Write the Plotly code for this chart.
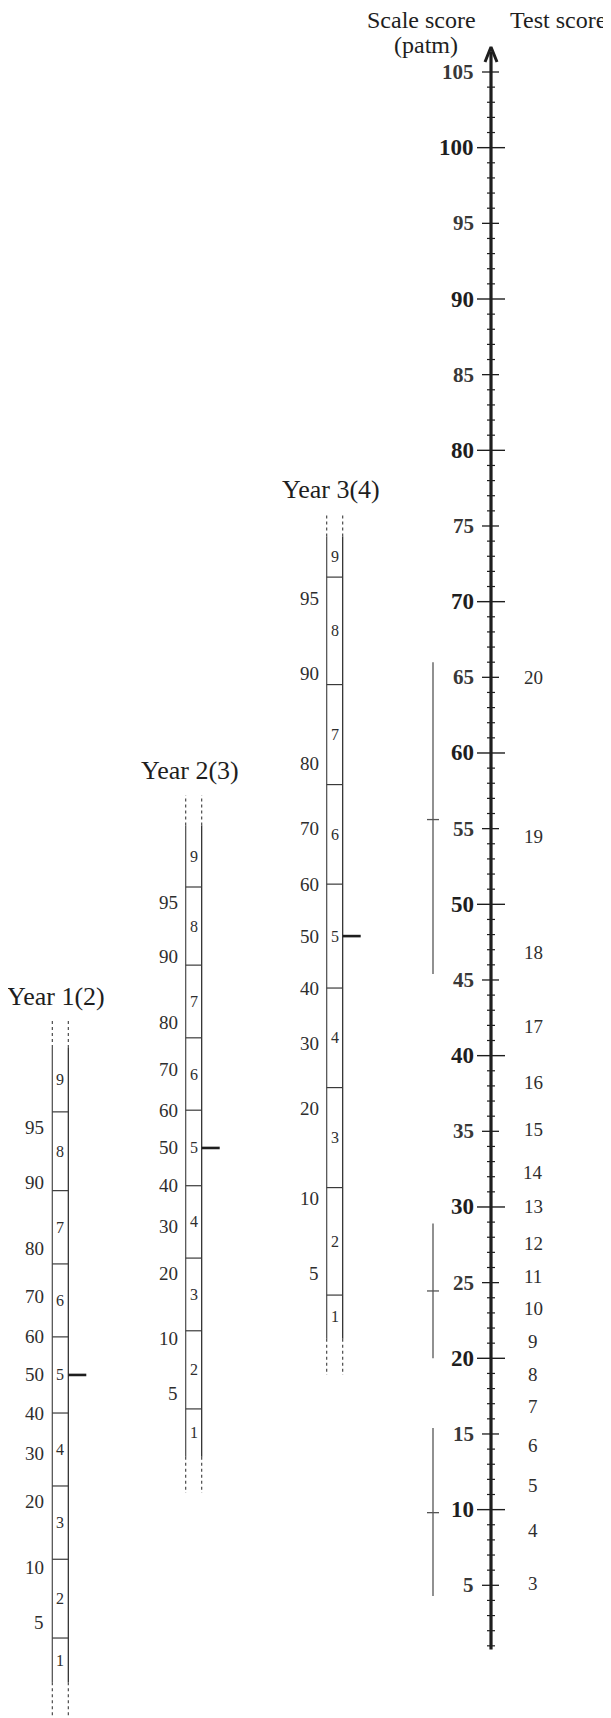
import plotly.graph_objects as go
from statistics import NormalDist

# ---------------- data ----------------
# main scale-score axis
scale_major_ticks = [10, 20, 30, 40, 50, 60, 70, 80, 90, 100]
scale_mid_ticks = [5, 15, 25, 35, 45, 55, 65, 75, 85, 95, 105]
scale_minor_ticks = list(range(1, 106))
axis_bottom = 0.75
axis_top = 106.65

# test scores and their scale-score positions
test_scores = [3, 4, 5, 6, 7, 8, 9, 10, 11, 12, 13, 14, 15, 16, 17, 18, 19, 20]
test_scale_pos = [5.1, 8.6, 11.6, 14.25, 16.8, 18.9, 21.1, 23.3, 25.4, 27.6,
                  30.0, 32.25, 35.1, 38.2, 41.9, 46.8, 54.5, 65.0]

# measurement-error bars (low, centre, high) in scale score
err_low = [4.3, 20.0, 45.4]
err_mid = [9.8, 24.45, 55.6]
err_high = [15.4, 28.9, 66.0]

# year columns (percentile scale placed on the scale-score axis)
years = ["Year 1(2)", "Year 2(3)", "Year 3(4)"]
year_mean = [18.9, 33.9, 47.9]
year_sd = [9.93, 9.85, 13.55]
solid_top = [40.5, 55.2, 74.3]
solid_bottom = [-1.4, 13.5, 21.3]
dash_top = [42.3, 57.2, 75.8]
dash_bottom = [-5.5, 11.1, 18.9]
stanine_cuts = [4, 11, 23, 40, 60, 77, 89, 96]
stanines = [1, 2, 3, 4, 5, 6, 7, 8, 9]
pct_labels = [5, 10, 20, 30, 40, 50, 60, 70, 80, 90, 95]

# ---------------- layout constants (pixels along x) ----------------
W, H = 611, 1718
PX = 15.133                      # px per scale unit
SHIFT = 7.7 / PX                 # vertical placement
Y0 = 5 - (H - 1585) / PX - SHIFT
Y1 = 5 + 1585 / PX - SHIFT
AX_X = 483
col_left = [44.3, 177.7, 318.7]
col_w = 16
ERR_X = 425
TEST_X = 525
LBL_X = 468

FONT = "Liberation Serif"
INK = "#1e1e1e"
LINE = "#3a3a3a"
TXT = "#2e2e2e"

nd = NormalDist()


def ypos(i, p):
    return year_mean[i] + year_sd[i] * nd.inv_cdf(p / 100.0)


fig = go.Figure()


def add_lines(xs, ys, color=LINE, width=1.2, dash=None):
    fig.add_trace(go.Scatter(x=xs, y=ys, mode="lines",
                             line=dict(color=color, width=width, dash=dash),
                             hoverinfo="skip", showlegend=False))


# main axis line
add_lines([AX_X, AX_X], [axis_bottom, axis_top - 0.3], color=INK, width=3.2)
# arrow head
ah = 15 / PX
add_lines([AX_X - 6, AX_X, AX_X + 6], [axis_top - ah, axis_top, axis_top - ah],
          color=INK, width=3)


def tick_trace(vals, x0, x1, width, color):
    xs, ys = [], []
    for v in vals:
        xs += [x0, x1, None]
        ys += [v, v, None]
    add_lines(xs, ys, color=color, width=width)


minor_only = [v for v in scale_minor_ticks if v % 5 != 0]
tick_trace(minor_only, AX_X - 4, AX_X + 4, 1.2, INK)
tick_trace(scale_mid_ticks, AX_X - 9, AX_X + 8, 1.3, INK)
tick_trace(scale_major_ticks, AX_X - 14, AX_X + 14, 1.4, INK)

annotations = []
for v in scale_major_ticks:
    annotations.append(dict(x=LBL_X, y=v, text="<b>%d</b>" % v, xanchor="right",
                            yanchor="middle", showarrow=False,
                            font=dict(family=FONT, size=23, color=INK)))
for v in scale_mid_ticks:
    annotations.append(dict(x=LBL_X, y=v, text="<b>%d</b>" % v, xanchor="right",
                            yanchor="middle", showarrow=False,
                            font=dict(family=FONT, size=21, color="#383838")))

# test score labels
for s, v in zip(test_scores, test_scale_pos):
    annotations.append(dict(x=TEST_X, y=v, text=str(s), xanchor="center",
                            yanchor="middle", showarrow=False,
                            font=dict(family=FONT, size=19, color=TXT)))

# error bars
xs, ys = [], []
for lo, mi, hi in zip(err_low, err_mid, err_high):
    xs += [ERR_X, ERR_X, None, ERR_X - 6, ERR_X + 6, None]
    ys += [lo, hi, None, mi, mi, None]
add_lines(xs, ys, color="#555555", width=1.3)

# year columns
for i, name in enumerate(years):
    xl = col_left[i]
    xr = xl + col_w
    xc = xl + col_w / 2
    add_lines([xl, xl], [solid_bottom[i], solid_top[i]], color="#4a4a4a", width=1.2)
    add_lines([xr, xr], [solid_bottom[i], solid_top[i]], color="#222222", width=1.2)
    add_lines([xl, xl, None, xr, xr, None, xl, xl, None, xr, xr],
              [solid_top[i], dash_top[i], None, solid_top[i], dash_top[i], None,
               solid_bottom[i], dash_bottom[i], None, solid_bottom[i], dash_bottom[i]],
              color=LINE, width=1.1, dash="3px,3px")
    bx, by = [], []
    for p in stanine_cuts:
        yy = ypos(i, p)
        bx += [xl, xr, None]
        by += [yy, yy, None]
    add_lines(bx, by, color=LINE, width=1.2)
    add_lines([xr, xr + 18], [ypos(i, 50), ypos(i, 50)], color=INK, width=2.6)
    edges = [solid_bottom[i]] + [ypos(i, p) for p in stanine_cuts] + [solid_top[i]]
    for k, s in enumerate(stanines):
        annotations.append(dict(x=xc, y=(edges[k] + edges[k + 1]) / 2, text=str(s),
                                xanchor="center", yanchor="middle", showarrow=False,
                                font=dict(family=FONT, size=16, color=TXT)))
    for p in pct_labels:
        annotations.append(dict(x=xl - 6, y=ypos(i, p), text=str(p),
                                xanchor="right", yanchor="middle", showarrow=False,
                                font=dict(family=FONT, size=19, color=TXT)))
    annotations.append(dict(x=xc - 4, y=dash_top[i], text=name, xanchor="center",
                            yanchor="bottom", yshift=8, showarrow=False,
                            font=dict(family=FONT, size=26, color=INK)))

# headers
annotations.append(dict(x=413, y=1 - 12 / H, xref="x", yref="paper", text="Scale score",
                        xanchor="center", yanchor="middle", showarrow=False,
                        font=dict(family=FONT, size=24, color=INK)))
annotations.append(dict(x=418, y=1 - 37 / H, xref="x", yref="paper", text="(patm)",
                        xanchor="center", yanchor="middle", showarrow=False,
                        font=dict(family=FONT, size=24, color=INK)))
annotations.append(dict(x=550, y=1 - 12 / H, xref="x", yref="paper", text="Test score",
                        xanchor="center", yanchor="middle", showarrow=False,
                        font=dict(family=FONT, size=24, color=INK)))

fig.update_layout(
    width=W, height=H,
    margin=dict(l=0, r=0, t=0, b=0),
    paper_bgcolor="white", plot_bgcolor="white",
    xaxis=dict(range=[0, W], visible=False, fixedrange=True),
    yaxis=dict(range=[Y0, Y1], visible=False, fixedrange=True),
    annotations=annotations,
    showlegend=False,
)

fig.write_html("out.html")
